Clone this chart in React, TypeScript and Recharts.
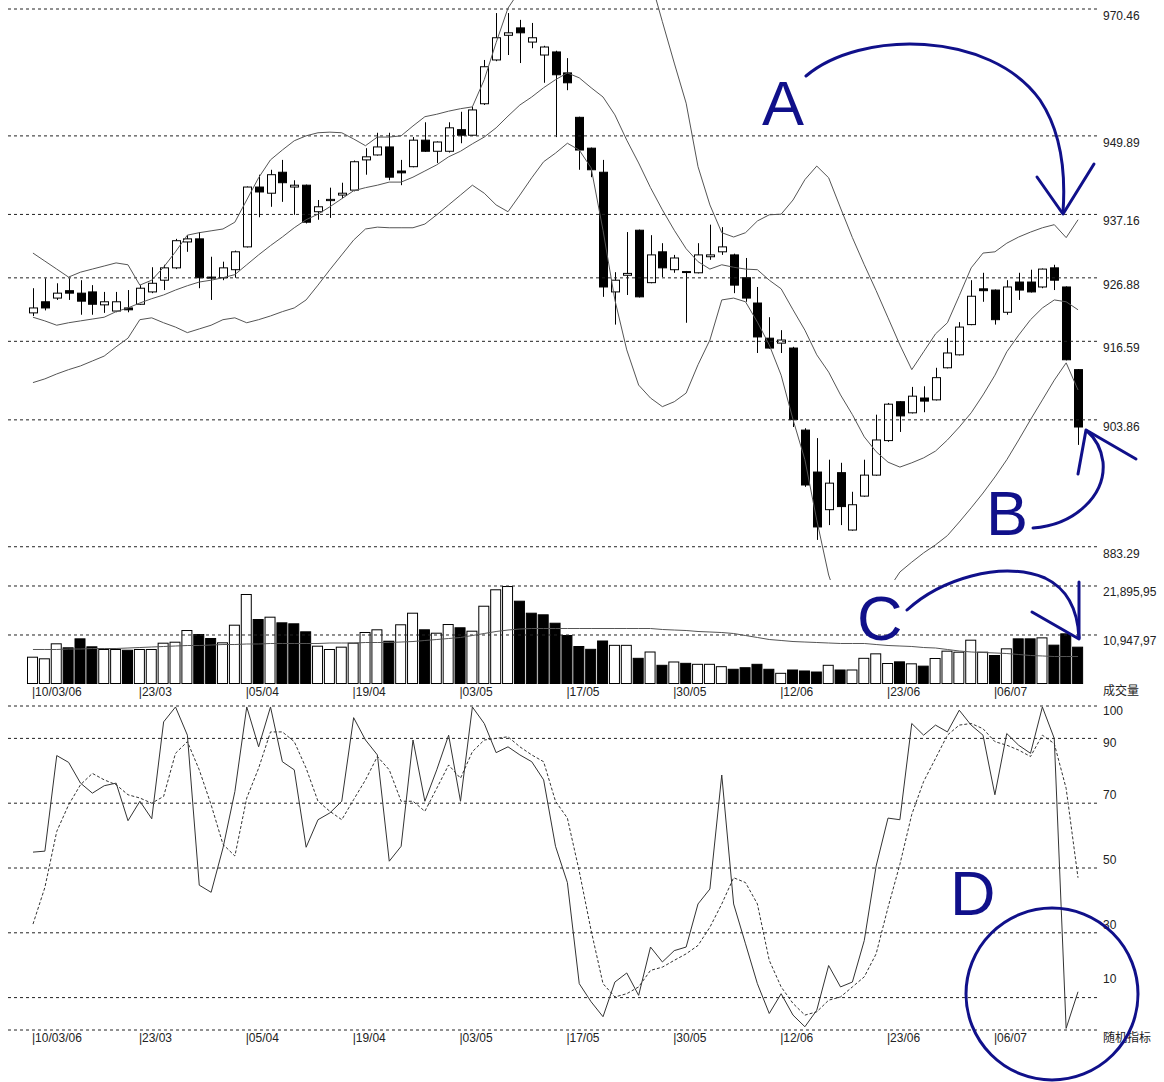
import React from 'react';
import { Bar, ComposedChart, Line, ReferenceLine, XAxis, YAxis } from 'recharts';

const FONT = '"Liberation Sans", Arial, sans-serif';
const CJK = '"Noto Sans CJK SC", sans-serif';
const NAVY = '#10108a';

// x-axis labels, one every 9 sessions
const dateLabels = ['10/03/06', '23/03', '05/04', '19/04', '03/05', '17/05', '30/05', '12/06', '23/06', '06/07'];
const labelEvery = 9;

const opens = [
  921.2, 923.0, 923.6, 924.8, 924.4, 924.6, 922.5, 921.5, 922.0, 922.6,
  924.6, 926.5, 928.5, 932.7, 933.2, 927.0, 926.9, 928.2, 931.9, 941.6,
  940.6, 944.0, 941.6, 941.9, 937.6, 939.4, 940.3, 941.1, 946.0, 946.8,
  948.1, 944.2, 944.9, 949.2, 947.4, 947.4, 950.9, 950.0, 955.1, 962.2,
  966.2, 967.4, 965.1, 963.0, 963.5, 960.1, 952.9, 947.9, 944.0, 924.6,
  927.3, 934.6, 926.1, 931.1, 928.2, 927.8, 927.7, 930.3, 931.1, 930.6,
  926.9, 922.8, 917.1, 916.3, 915.5, 902.2, 895.4, 889.3, 895.3, 886.0,
  891.5, 894.9, 900.5, 906.8, 905.0, 907.4, 907.1, 912.3, 914.4, 919.3,
  925.1, 924.9, 921.3, 926.2, 926.2, 925.4, 928.5, 925.4, 912.0,
];
const highs = [
  925.2, 926.8, 926.0, 926.8, 926.5, 925.7, 924.6, 924.6, 924.9, 925.7,
  928.6, 929.0, 933.2, 933.8, 934.3, 930.3, 929.5, 931.3, 941.7, 943.6,
  944.4, 946.0, 942.7, 942.0, 939.5, 941.5, 942.3, 945.9, 947.9, 950.4,
  950.4, 946.0, 949.7, 952.1, 949.0, 952.1, 953.8, 954.6, 962.2, 969.8,
  969.8, 968.7, 968.2, 964.5, 963.7, 962.5, 953.0, 948.0, 946.0, 927.8,
  934.3, 934.7, 933.8, 932.5, 930.6, 928.0, 932.5, 935.5, 935.1, 930.8,
  930.1, 925.4, 920.5, 918.4, 915.7, 902.5, 900.9, 897.4, 896.9, 892.2,
  897.4, 904.7, 906.6, 906.9, 909.2, 909.3, 912.3, 917.1, 919.7, 926.5,
  927.7, 925.0, 926.5, 927.7, 928.2, 928.4, 929.0, 925.5, 912.1,
];
const lows = [
  920.7, 921.6, 923.3, 923.3, 920.9, 920.9, 921.2, 921.3, 921.3, 922.5,
  924.4, 924.9, 928.3, 931.1, 925.2, 923.3, 926.5, 926.9, 931.8, 936.7,
  938.4, 939.2, 937.1, 935.7, 936.3, 936.6, 939.8, 940.9, 943.6, 946.7,
  942.7, 941.9, 944.8, 947.3, 945.5, 947.2, 948.7, 949.9, 954.9, 962.0,
  963.0, 961.7, 964.1, 958.5, 949.7, 957.3, 944.4, 943.2, 923.8, 919.3,
  924.1, 923.7, 926.0, 927.0, 927.7, 919.6, 927.6, 929.8, 930.6, 924.4,
  923.0, 914.7, 915.4, 914.7, 902.7, 893.0, 884.4, 886.8, 886.8, 885.9,
  891.4, 894.8, 900.3, 901.9, 904.9, 905.1, 907.0, 912.2, 914.3, 919.2,
  923.0, 919.3, 920.9, 923.3, 924.5, 925.2, 924.9, 913.5, 899.8,
];
const closes = [
  922.0, 922.0, 924.4, 924.4, 923.1, 922.6, 923.0, 923.0, 921.7, 925.2,
  926.0, 928.5, 932.9, 933.2, 926.9, 926.9, 928.5, 931.1, 941.6, 940.8,
  943.6, 942.3, 941.9, 935.9, 938.4, 939.6, 940.6, 945.7, 946.5, 948.1,
  943.2, 943.9, 949.2, 947.4, 948.9, 951.2, 950.0, 954.1, 961.1, 965.8,
  966.6, 966.6, 965.8, 964.3, 959.8, 958.5, 947.6, 944.4, 925.4, 926.5,
  927.6, 923.8, 930.6, 928.5, 930.1, 927.9, 930.6, 930.6, 931.9, 925.7,
  923.6, 917.3, 915.5, 916.8, 903.9, 893.3, 886.5, 893.6, 889.8, 890.1,
  894.9, 900.6, 906.4, 904.5, 907.7, 906.9, 910.7, 914.7, 918.9, 923.9,
  924.8, 920.1, 925.4, 924.9, 924.6, 928.3, 926.5, 913.6, 902.7,
];

// Bollinger bands
const bbUpper = [
  930.9, 929.6, 928.3, 927.0, 927.8, 928.3, 928.8, 929.3, 929.0, 925.7,
  926.5, 928.6, 931.1, 933.8, 934.2, 934.5, 934.8, 935.9, 939.5, 943.1,
  946.0, 947.6, 949.1, 949.9, 950.4, 950.5, 950.4, 949.4, 948.3, 949.7,
  949.7, 949.9, 951.5, 953.0, 953.4, 953.9, 954.3, 954.6, 959.0, 965.0,
  970.6, 973.5, 976.0, 977.6, 978.4, 978.4, 980.0, 981.6, 982.5, 982.5,
  981.6, 979.2, 975.2, 968.4, 961.7, 955.2, 944.9, 938.7, 934.2, 933.5,
  934.2, 936.1, 937.1, 937.2, 939.5, 942.8, 945.0, 943.1, 938.2, 933.4,
  929.0, 924.8, 920.4, 916.0, 912.0, 914.9, 917.8, 919.6, 924.0, 928.5,
  930.9, 931.1, 932.5, 933.5, 934.3, 935.0, 935.5, 933.4, 936.3,
];
const bbMid = [
  920.5, 919.9, 919.2, 919.6, 919.9, 920.2, 920.5, 921.4, 922.0, 922.8,
  923.5, 924.1, 924.9, 925.6, 926.2, 926.5, 926.9, 927.4, 929.0, 930.6,
  932.1, 933.5, 935.0, 936.3, 937.2, 938.4, 939.7, 941.0, 941.5, 941.9,
  942.4, 942.4, 943.2, 944.2, 945.2, 946.5, 947.4, 948.6, 949.7, 951.2,
  953.1, 954.9, 956.2, 957.7, 959.0, 960.1, 959.3, 957.7, 956.2, 953.3,
  949.2, 945.5, 941.5, 937.9, 934.6, 931.6, 929.5, 928.3, 929.0, 928.6,
  928.3, 928.2, 926.5, 925.1, 921.7, 918.4, 914.4, 911.6, 907.9, 904.7,
  901.1, 898.7, 897.0, 896.2, 896.9, 897.7, 898.8, 900.6, 902.7, 905.0,
  907.9, 911.1, 914.9, 917.6, 920.1, 922.0, 923.3, 923.0, 921.7,
];
const bbLower = [
  909.9, 910.5, 911.3, 912.0, 912.6, 913.4, 914.2, 915.7, 917.1, 920.1,
  920.4, 919.6, 918.9, 918.0, 918.6, 919.2, 920.1, 920.4, 919.6, 920.1,
  920.7, 921.4, 922.0, 923.3, 925.7, 928.2, 930.6, 933.0, 934.8, 935.1,
  935.0, 935.0, 935.0, 935.6, 937.1, 938.7, 940.3, 941.9, 940.6, 938.7,
  937.6, 940.3, 943.1, 945.7, 947.1, 948.7, 947.6, 944.7, 934.6, 923.3,
  915.2, 909.5, 907.4, 906.0, 906.8, 908.2, 912.8, 916.8, 923.3, 923.6,
  923.0, 919.7, 916.0, 911.1, 903.9, 897.4, 887.6, 878.7, 873.1, 869.8,
  869.8, 872.3, 876.3, 879.2, 880.8, 882.3, 883.6, 885.1, 887.3, 889.6,
  892.0, 894.6, 897.4, 900.6, 903.9, 907.1, 910.3, 913.1, 908.7,
];

const volumes = [
  6100, 5740, 9090, 8200, 10200, 8420, 7820, 7820, 7660, 7820,
  7820, 9230, 9450, 12060, 11170, 10280, 9310, 13250, 20110, 14520,
  15040, 13780, 13560, 11770, 8560, 7820, 8340, 9230, 11620, 12220,
  9670, 13340, 15930, 12220, 11460, 13400, 12670, 11910, 17490, 21160,
  21890, 18610, 15930, 15570, 13690, 10950, 8490, 7860, 9720, 8750,
  8750, 5850, 7260, 4290, 5030, 4730, 4510, 4510, 3980, 3400,
  3750, 4510, 3400, 2500, 3240, 3020, 2790, 4290, 3240, 3240,
  5850, 6850, 4690, 5060, 4620, 4100, 5810, 7450, 7220, 9900,
  7220, 6480, 7970, 10200, 10200, 10420, 8790, 11320, 8340,
];
// 1 = hollow (up) bar, 0 = solid (down) bar
const volUp = [
  1, 1, 1, 0, 0, 0, 1, 1, 0, 1,
  1, 1, 1, 1, 0, 0, 1, 1, 1, 0,
  1, 0, 0, 0, 1, 1, 1, 1, 1, 1,
  0, 1, 1, 0, 1, 1, 0, 1, 1, 1,
  1, 0, 0, 0, 0, 0, 0, 0, 0, 1,
  1, 0, 1, 0, 1, 0, 1, 1, 1, 0,
  0, 0, 0, 1, 0, 0, 0, 1, 0, 1,
  1, 1, 1, 0, 1, 0, 1, 1, 1, 1,
  1, 0, 1, 0, 0, 1, 0, 0, 0,
];
const volMa = [
  7710, 7710, 7710, 7820, 7820, 7930, 7930, 7930, 8040, 8150,
  8270, 8380, 8490, 8600, 8600, 8710, 8820, 8820, 8940, 8940,
  9050, 9050, 9050, 9050, 9050, 9160, 9160, 9160, 9270, 9270,
  9270, 9380, 9490, 9720, 9940, 10160, 10390, 10830, 11280, 11730,
  12060, 12290, 12400, 12400, 12400, 12400, 12400, 12400, 12400, 12400,
  12400, 12400, 12400, 12180, 12060, 11950, 11730, 11620, 11500, 11280,
  10830, 10390, 9940, 9720, 9490, 9380, 9270, 9160, 9050, 9050,
  9050, 8820, 8600, 8490, 8380, 8150, 8040, 7710, 7370, 7150,
  7040, 6930, 6810, 6590, 6370, 6260, 6140, 6140, 6140,
];

const stochK = [
  54.9, 55.2, 84.7, 82.6, 76.2, 73.1, 75.4, 76.2, 64.6, 70.6,
  65.2, 95.1, 99.7, 91.0, 44.7, 42.5, 56.2, 73.6, 99.7, 87.4,
  99.7, 82.8, 80.3, 56.4, 64.9, 67.0, 70.6, 96.4, 89.5, 84.9,
  52.1, 56.7, 89.5, 70.6, 80.3, 91.0, 70.6, 99.7, 94.6, 85.6,
  87.4, 84.9, 82.8, 77.2, 56.7, 45.5, 14.3, 8.7, 4.1, 14.8,
  17.6, 10.7, 25.6, 21.0, 24.5, 25.6, 38.9, 43.5, 78.7, 38.9,
  26.6, 14.3, 5.1, 11.2, 4.6, 1.0, 6.1, 19.9, 13.3, 14.8,
  27.6, 50.6, 65.4, 64.9, 94.6, 91.0, 94.1, 92.0, 98.7, 94.1,
  91.0, 72.6, 91.5, 87.9, 85.4, 99.7, 90.0, 0.5, 11.8,
];
const stochD = [
  32.7, 44.0, 61.3, 69.5, 75.7, 79.2, 77.2, 75.7, 72.6, 71.6,
  70.0, 72.1, 85.4, 89.0, 80.3, 69.5, 57.3, 53.7, 71.6, 80.8,
  92.0, 92.0, 89.0, 80.8, 70.6, 67.5, 64.9, 71.1, 77.2, 84.4,
  80.3, 70.6, 70.6, 67.5, 74.6, 81.8, 77.7, 85.9, 89.5, 90.0,
  90.5, 87.4, 84.9, 82.8, 70.6, 65.4, 49.0, 30.7, 14.3, 10.2,
  11.2, 13.3, 18.4, 19.4, 21.5, 23.5, 26.1, 31.7, 38.9, 47.0,
  45.5, 38.9, 21.5, 13.3, 8.2, 4.6, 5.6, 9.2, 10.2, 13.3,
  16.4, 23.5, 37.8, 51.1, 66.5, 76.7, 83.8, 91.0, 94.1, 94.6,
  93.0, 89.0, 87.9, 86.4, 84.4, 91.0, 88.4, 74.6, 47.0,
];

const priceTicks = [883.29, 903.86, 916.59, 926.88, 937.16, 949.89, 970.46];
const volTicks = [10947.97, 21895.95];
const volTickLabels = ['10,947,97', '21,895,95'];
const stochTicks = [0, 10, 30, 50, 70, 90, 100];
const stochLabelDy: Record<number, number> = { 100: 9, 90: 9, 70: -4, 50: -4, 30: -4, 10: -15 };

const rows = opens.map((o, i) => ({
  i,
  open: o,
  high: highs[i],
  low: lows[i],
  close: closes[i],
  upper: bbUpper[i],
  mid: bbMid[i],
  lower: bbLower[i],
  vol: volumes[i],
  up: volUp[i],
  volMa: volMa[i],
  k: stochK[i],
  d: stochD[i],
}));

// band axis (charts with bars) and point axis (line-only chart) padded so sessions line up
const BAND_PAD = { left: 22, right: 13 };
const POINT_PAD = { left: 28, right: 19 };

function Candle(props: any) {
  const { x, y, width, height, payload } = props;
  const { open, close, high, low } = payload;
  const cx = Math.round(x + width / 2) + 0.5;
  const ppu = height / (high - low || 1);
  const top = y + (high - Math.max(open, close)) * ppu;
  const bot = y + (high - Math.min(open, close)) * ppu;
  const up = close >= open;
  const bh = Math.max(bot - top, 1);
  return (
    <g>
      <line x1={cx} x2={cx} y1={y} y2={y + height} stroke="#000" strokeWidth={1} />
      <rect x={cx - 4} y={top} width={8} height={bh} fill={up ? '#fff' : '#000'} stroke="#000" strokeWidth={1} />
    </g>
  );
}

function VolBar(props: any) {
  const { x, y, width, height, payload } = props;
  return (
    <rect x={x + 0.5} y={y + 0.5} width={width - 1} height={Math.max(height - 1, 0)} fill={payload.up ? '#fff' : '#000'} stroke="#000" strokeWidth={1} />
  );
}

function PriceTick({ x, y, payload }: any) {
  return (
    <text x={x - 2} y={y + 11} fontSize={12} fill="#222" fontFamily={FONT}>
      {payload.value.toFixed(2)}
    </text>
  );
}

function VolTick({ x, y, payload }: any) {
  const idx = volTicks.indexOf(payload.value);
  return (
    <text x={x - 2} y={y + 10} fontSize={12} fill="#222" fontFamily={FONT}>
      {volTickLabels[idx]}
    </text>
  );
}

function StochTick({ x, y, payload }: any) {
  if (payload.value === 0) return <g />;
  return (
    <text x={x - 2} y={y + (stochLabelDy[payload.value] ?? 0)} fontSize={12} fill="#222" fontFamily={FONT}>
      {payload.value}
    </text>
  );
}

function DateTick({ x, y, payload }: any) {
  return (
    <text x={x - 1} y={y + 4} fontSize={12} fill="#222" fontFamily={FONT}>
      {'|' + dateLabels[payload.value / labelEvery]}
    </text>
  );
}

const gridLines = (ticks: number[]) =>
  ticks.map((v) => <ReferenceLine key={v} y={v} stroke="#222" strokeDasharray="3 3" />);

export default function App() {
  return (
    <div style={{ position: 'absolute', left: 0, top: 0, width: 1164, height: 1082, background: '#fff', overflow: 'hidden' }}>
      <div style={{ position: 'absolute', left: 0, top: 0 }}>
        <ComposedChart width={1164} height={580} data={rows} margin={{ top: 0, right: 0, bottom: 0, left: 5 }}>
          <XAxis dataKey="i" type="category" hide padding={BAND_PAD} />
          <YAxis
            orientation="right"
            width={67}
            domain={[877.9, 971.92]}
            allowDataOverflow
            ticks={priceTicks}
            interval={0}
            axisLine={false}
            tickLine={false}
            tick={(p: any) => <PriceTick {...p} />}
          />
          {gridLines(priceTicks)}
          <Bar dataKey={(d: any) => [d.low, d.high]} barSize={10} shape={(p: any) => <Candle {...p} />} isAnimationActive={false} />
          <Line type="linear" dataKey="upper" stroke="#555" strokeWidth={1} dot={false} activeDot={false} isAnimationActive={false} />
          <Line type="linear" dataKey="mid" stroke="#555" strokeWidth={1} dot={false} activeDot={false} isAnimationActive={false} />
          <Line type="linear" dataKey="lower" stroke="#555" strokeWidth={1} dot={false} activeDot={false} isAnimationActive={false} />
        </ComposedChart>
      </div>

      <div style={{ position: 'absolute', left: 0, top: 583 }}>
        <ComposedChart width={1164} height={117} data={rows} margin={{ top: 0, right: 0, bottom: 0, left: 5 }}>
          <XAxis dataKey="i" type="category" padding={BAND_PAD} height={16} interval={8} axisLine={false} tickLine={false} tick={(p: any) => <DateTick {...p} />} />
          <YAxis
            orientation="right"
            width={67}
            domain={[0, 22566]}
            ticks={volTicks}
            interval={0}
            axisLine={false}
            tickLine={false}
            tick={(p: any) => <VolTick {...p} />}
          />
          {gridLines(volTicks)}
          <Bar dataKey="vol" barSize={11} shape={(p: any) => <VolBar {...p} />} isAnimationActive={false} />
          <Line type="linear" dataKey="volMa" stroke="#555" strokeWidth={1} dot={false} activeDot={false} isAnimationActive={false} />
        </ComposedChart>
      </div>

      <div style={{ position: 'absolute', left: 0, top: 696 }}>
        <ComposedChart width={1164} height={350} data={rows} margin={{ top: 10, right: 0, bottom: 0, left: 5 }}>
          <XAxis dataKey="i" type="category" padding={POINT_PAD} height={16} interval={8} axisLine={false} tickLine={false} tick={(p: any) => <DateTick {...p} />} />
          <YAxis
            orientation="right"
            width={67}
            domain={[0, 100]}
            ticks={stochTicks}
            interval={0}
            axisLine={false}
            tickLine={false}
            tick={(p: any) => <StochTick {...p} />}
          />
          {gridLines(stochTicks)}
          <Line type="linear" dataKey="k" stroke="#333" strokeWidth={1} dot={false} activeDot={false} isAnimationActive={false} />
          <Line type="linear" dataKey="d" stroke="#333" strokeWidth={1} strokeDasharray="3 2" dot={false} activeDot={false} isAnimationActive={false} />
        </ComposedChart>
      </div>

      <div style={{ position: 'absolute', left: 1103, top: 682, fontSize: 12, fontFamily: CJK, color: '#222', lineHeight: '16px' }}>成交量</div>
      <div style={{ position: 'absolute', left: 1103, top: 1029, fontSize: 12, fontFamily: CJK, color: '#222', lineHeight: '16px' }}>随机指标</div>

      <svg width={1164} height={1082} style={{ position: 'absolute', left: 0, top: 0, pointerEvents: 'none' }}>
        <g fill="none" stroke={NAVY} strokeWidth={3} strokeLinecap="round" strokeLinejoin="round">
          <path d="M 806 76 C 860 30, 990 30, 1040 100 C 1060 130, 1066 170, 1063 212" />
          <path d="M 1037 177 L 1063 214 L 1094 164" />
          <path d="M 1033 528 C 1075 525, 1106 495, 1103 462 C 1101 447, 1094 437, 1087 431" />
          <path d="M 1078 474 L 1086 430 L 1136 459" />
          <path d="M 907 610 C 940 580, 1000 560, 1045 578 C 1070 590, 1078 615, 1079 638" />
          <path d="M 1032 612 L 1079 639 L 1079 582" />
          <ellipse cx={1052} cy={994} rx={86} ry={86} />
        </g>
        <g fill={NAVY} fontFamily={FONT} fontSize={63}>
          <text x={762} y={125}>A</text>
          <text x={986} y={535}>B</text>
          <text x={857} y={640}>C</text>
          <text x={950} y={915}>D</text>
        </g>
      </svg>
    </div>
  );
}
